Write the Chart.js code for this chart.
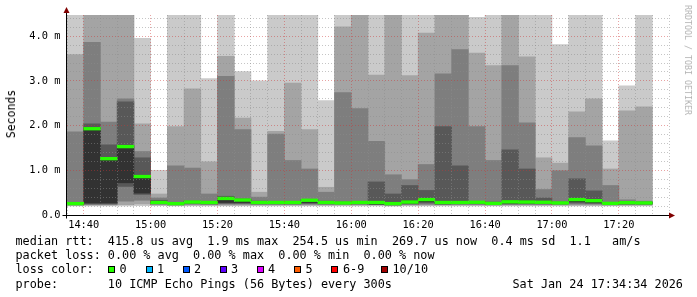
<!DOCTYPE html>
<html>
<head>
<meta charset="utf-8">
<script src="https://cdn.jsdelivr.net/npm/chart.js@4/dist/chart.umd.min.js"></script>
<style>
html,body{margin:0;padding:0;background:#fff;}
#wrap{position:relative;width:697px;height:297px;overflow:hidden;font-family:"DejaVu Sans Mono",monospace;color:#000;}
#c{position:absolute;left:0;top:0;}
.t{position:absolute;white-space:pre;font-size:11.8px;line-height:14px;}
.box{position:absolute;width:5px;height:5px;border:1px solid #000;}
.rot{position:absolute;white-space:pre;transform:translate(-50%,-50%) rotate(-90deg);}
.rot2{position:absolute;white-space:pre;transform:translate(-50%,-50%) rotate(90deg);}
</style>
</head>
<body>
<div id="wrap">
<canvas id="c" width="697" height="297"></canvas>
<div class="rot" style="left:11px;top:113.5px;font-size:11.5px;">Seconds</div>
<div class="rot2" style="left:688px;top:60px;font-size:8.3px;color:#b4b4b4;">RRDTOOL / TOBI OETIKER</div>
<div id="legend"></div>
</div>
<script>
// ---- data (milliseconds) ----
const slots = ['14:35','14:40','14:45','14:50','14:55','15:00','15:05','15:10','15:15','15:20','15:25','15:30','15:35','15:40','15:45','15:50','15:55','16:00','16:05','16:10','16:15','16:20','16:25','16:30','16:35','16:40','16:45','16:50','16:55','17:00','17:05','17:10','17:15','17:20','17:25'];
// sorted ping RTTs per 5-minute slot (p10 = slowest, p01 = fastest)
const p10 = [4.8,4.8,4.8,4.8,3.95,1.00,4.8,4.8,3.05,4.8,3.21,3.00,4.8,4.8,4.8,2.56,4.8,4.8,4.8,4.8,4.8,4.8,4.8,4.8,4.42,4.8,4.8,4.8,4.8,3.81,4.8,4.8,1.66,2.89,4.8];
const p09 = [3.59,4.7,4.7,4.7,2.04,0.47,1.98,2.82,1.19,3.55,2.17,0.51,1.87,2.95,1.91,0.62,4.21,4.7,3.13,4.7,3.12,4.07,4.7,4.7,3.62,3.34,4.7,3.54,1.28,1.16,2.31,2.60,1.03,2.33,2.42];
const p08 = [1.86,3.86,2.08,2.60,1.42,0.38,1.10,1.05,0.47,3.10,1.91,0.40,1.81,1.22,1.03,0.51,2.74,2.38,1.65,0.90,0.79,1.13,3.16,3.70,1.98,1.22,3.34,2.06,0.57,0.99,1.73,1.55,0.66,0.34,0.31];
const p07 = [0.27,2.04,1.57,2.53,1.28,0.33,0.28,0.31,0.30,0.42,0.36,0.31,0.30,0.30,0.35,0.31,0.29,0.30,0.74,0.47,0.66,0.55,1.98,1.10,0.30,0.29,1.46,1.03,0.38,0.29,0.81,0.54,0.28,0.30,0.29];
const p06 = [0.26,1.95,1.27,1.55,0.87,0.30,0.265,0.30,0.29,0.39,0.345,0.29,0.29,0.29,0.34,0.29,0.28,0.29,0.29,0.27,0.31,0.37,0.30,0.30,0.29,0.275,0.31,0.31,0.30,0.28,0.36,0.33,0.27,0.285,0.275];
const p05 = [0.245,0.27,0.27,0.72,0.49,0.27,0.245,0.28,0.27,0.28,0.28,0.27,0.27,0.27,0.28,0.27,0.265,0.27,0.245,0.24,0.27,0.30,0.26,0.27,0.27,0.255,0.27,0.27,0.27,0.265,0.30,0.28,0.255,0.26,0.26];
const p04 = [0.235,0.25,0.25,0.64,0.46,0.26,0.235,0.26,0.25,0.26,0.26,0.25,0.25,0.25,0.26,0.25,0.25,0.25,0.235,0.23,0.25,0.27,0.245,0.25,0.25,0.24,0.25,0.25,0.25,0.25,0.27,0.26,0.24,0.245,0.245];
const p03 = [0.225,0.235,0.235,0.31,0.33,0.24,0.225,0.24,0.235,0.24,0.24,0.235,0.235,0.235,0.24,0.235,0.235,0.235,0.23,0.22,0.235,0.24,0.23,0.235,0.235,0.23,0.235,0.235,0.235,0.235,0.24,0.24,0.23,0.23,0.23];
const p02 = [0.215,0.22,0.22,0.23,0.25,0.22,0.215,0.22,0.22,0.22,0.22,0.22,0.22,0.22,0.22,0.22,0.22,0.22,0.22,0.21,0.22,0.22,0.22,0.22,0.22,0.215,0.22,0.22,0.22,0.22,0.22,0.22,0.215,0.22,0.22];
const p01 = [0.205,0.205,0.205,0.205,0.21,0.21,0.205,0.205,0.205,0.205,0.205,0.205,0.205,0.205,0.205,0.205,0.205,0.205,0.205,0.20,0.205,0.205,0.205,0.205,0.205,0.205,0.205,0.205,0.205,0.205,0.205,0.205,0.205,0.205,0.205];
const median = [0.255,1.93,1.26,1.53,0.86,0.28,0.255,0.29,0.28,0.37,0.335,0.28,0.28,0.28,0.33,0.28,0.27,0.28,0.28,0.255,0.29,0.345,0.28,0.28,0.285,0.26,0.295,0.29,0.285,0.27,0.345,0.32,0.26,0.275,0.27];
const lossCount = [0,0,0,0,0,0,0,0,0,0,0,0,0,0,0,0,0,0,0,0,0,0,0,0,0,0,0,0,0,0,0,0,0,0,0];
const xTickLabels = ['14:40','15:00','15:20','15:40','16:00','16:20','16:40','17:00','17:20'];
const yTickLabels = ['0.0','1.0 m','2.0 m','3.0 m','4.0 m'];
const legendNames = ['0','1','2','3','4','5','6-9','10/10'];
const legendColors = ['#26ff00','#00b8ff','#0059ff','#5e00ff','#dd00ff','#ff5e00','#ff0000','#a10000'];

// ---- helpers ----
const toMin = s => { const [h, m] = s.split(':').map(Number); return h * 60 + m; };
const fmt = v => String(Math.floor(v / 60)).padStart(2, '0') + ':' + String(Math.round(v % 60)).padStart(2, '0');
const SLOT = 5;
const X0 = toMin(slots[0]);
const X1 = toMin(slots[slots.length - 1]) + 2 * SLOT;
const YMAX = 4.474;
const MED_HALF = 0.03;
const lossColor = n => n === 0 ? legendColors[0] : n >= 10 ? legendColors[7] : n >= 6 ? legendColors[6] : legendColors[n];

const bandColors = ['#cacaca', '#a4a4a4', '#7e7e7e', '#585858', '#323232'];
const pairs = [[p01, p10], [p02, p09], [p03, p08], [p04, p07], [p05, p06]];
const common = { type: 'bar', grouped: false, barPercentage: 1, categoryPercentage: 1, borderWidth: 0 };
const datasets = pairs.map(([lo, hi], i) => Object.assign({}, common, {
  data: slots.map((s, j) => ({ x: toMin(s) + SLOT / 2, y: [lo[j], hi[j]] })),
  backgroundColor: bandColors[i],
  order: 10 - i
}));
datasets.push(Object.assign({}, common, {
  data: slots.map((s, j) => ({ x: toMin(s) + SLOT / 2, y: [median[j] - MED_HALF, median[j] + MED_HALF] })),
  backgroundColor: lossCount.map(lossColor),
  order: 0
}));

const MINOR = 'rgba(140,140,140,0.5)';
const MAJOR = 'rgba(205,50,50,0.45)';
const tickFont = { family: 'DejaVu Sans Mono', size: 10.35 };

const axesPlugin = {
  id: 'rrdAxes',
  afterDraw(chart) {
    const { ctx, chartArea: a } = chart;
    const xl = Math.round(a.left) - 0.5, yb = Math.round(a.bottom) + 0.5;
    ctx.save();
    ctx.strokeStyle = '#000';
    ctx.lineWidth = 1;
    ctx.beginPath();
    ctx.moveTo(xl, yb + 3); ctx.lineTo(xl, 11);
    ctx.moveTo(xl - 4, yb); ctx.lineTo(a.right + 2, yb);
    ctx.stroke();
    ctx.fillStyle = '#800000';
    ctx.beginPath();
    ctx.moveTo(xl - 3, 13); ctx.lineTo(xl, 7); ctx.lineTo(xl + 3, 13); ctx.closePath(); ctx.fill();
    ctx.beginPath();
    ctx.moveTo(a.right, yb - 3); ctx.lineTo(a.right + 6, yb); ctx.lineTo(a.right, yb + 3); ctx.closePath(); ctx.fill();
    ctx.restore();
  }
};

new Chart(document.getElementById('c'), {
  type: 'bar',
  data: { datasets },
  plugins: [axesPlugin],
  options: {
    responsive: false,
    animation: false,
    layout: { padding: { top: 15, right: 28, left: 0, bottom: 0 } },
    plugins: { legend: { display: false }, tooltip: { enabled: false } },
    scales: {
      x: {
        type: 'linear', min: X0, max: X1, offset: false,
        afterBuildTicks: sc => { const t = []; for (let v = X0; v <= X1; v += SLOT) t.push({ value: v }); sc.ticks = t; },
        afterFit: sc => { sc.height = 82; },
        grid: { offset: false, drawTicks: false, z: 1, lineWidth: 1,
          color: c => (c.tick && Math.round(c.tick.value) % 20 === 0) ? MAJOR : MINOR },
        border: { display: false, dash: [1, 2] },
        ticks: { autoSkip: false, maxRotation: 0, minRotation: 0, padding: 4, font: tickFont, color: '#000',
          callback: v => { const s = fmt(v); return xTickLabels.includes(s) ? s : ''; } }
      },
      y: {
        min: 0, max: YMAX,
        afterBuildTicks: sc => { const t = []; for (let i = 0; i * 0.2 <= YMAX; i++) t.push({ value: Math.round(i * 2) / 10 }); sc.ticks = t; },
        afterFit: sc => { sc.width = 67; },
        grid: { drawTicks: false, z: 1, lineWidth: 1,
          color: c => (c.tick && Math.abs(c.tick.value - Math.round(c.tick.value)) < 1e-6) ? MAJOR : MINOR },
        border: { display: false, dash: [1, 2] },
        ticks: { autoSkip: false, padding: 6.5, font: tickFont, color: '#000',
          callback: v => { const r = Math.round(v); return Math.abs(v - r) < 1e-6 && yTickLabels[r] !== undefined ? yTickLabels[r] : ''; } }
      }
    }
  }
});

// ---- legend text (rrdtool style) ----
const lg = document.getElementById('legend');
function addText(txt, left, top) {
  const d = document.createElement('div');
  d.className = 't'; d.textContent = txt;
  d.style.left = left + 'px'; d.style.top = top + 'px';
  lg.appendChild(d);
}
addText('median rtt:  415.8 us avg  1.9 ms max  254.5 us min  269.7 us now  0.4 ms sd  1.1   am/s', 15.5, 234);
addText('packet loss: 0.00 % avg  0.00 % max  0.00 % min  0.00 % now', 15.5, 248);
addText('loss color:', 15.5, 262);
const boxX = [108, 145.5, 182.5, 219.5, 256.5, 294, 331, 380.5];
const labX = [119.5, 157, 194, 231, 268, 305.5, 343, 392.5];
legendNames.forEach((n, i) => {
  const b = document.createElement('div');
  b.className = 'box'; b.style.left = boxX[i] + 'px'; b.style.top = '265.5px'; b.style.background = legendColors[i];
  lg.appendChild(b);
  addText(n, labX[i], 262);
});
addText('probe:       10 ICMP Echo Pings (56 Bytes) every 300s', 15.5, 276.5);
addText('Sat Jan 24 17:34:34 2026', 512.5, 276.5);
</script>
</body>
</html>
